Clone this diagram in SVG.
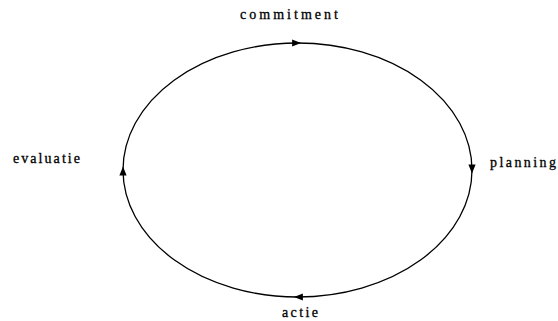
<svg xmlns="http://www.w3.org/2000/svg" width="558" height="321" viewBox="0 0 558 321">
<style>
.lbl{font-family:"Liberation Serif","Times New Roman",serif;font-size:14px;fill:#000;stroke:#000;stroke-width:0.3}
.arc{fill:none;stroke:#000;stroke-width:1.3}
</style>
<defs>
<marker id="ah" viewBox="0 0 10 10" refX="6" refY="5" markerWidth="11" markerHeight="9" markerUnits="userSpaceOnUse" orient="auto">
<path d="M0,1 L10,5 L0,9 Z" fill="#000"/>
</marker>
</defs>
<rect width="558" height="321" fill="#fff"/>
<g id="connectors">
<path class="arc" d="M123,170 A174.5,127 0 0 1 297.5,43" marker-end="url(#ah)"/>
<path class="arc" d="M297.5,43 A174.5,127 0 0 1 472,170" marker-end="url(#ah)"/>
<path class="arc" d="M472,170 A174.5,127 0 0 1 297.5,297" marker-end="url(#ah)"/>
<path class="arc" d="M297.5,297 A174.5,127 0 0 1 123,170" marker-end="url(#ah)"/>
</g>
<g id="commitment"><text class="lbl" x="240" y="19" textLength="98" lengthAdjust="spacing">commitment</text></g>
<g id="planning"><text class="lbl" x="490" y="167" textLength="66" lengthAdjust="spacing">planning</text></g>
<g id="actie"><text class="lbl" x="282" y="317" textLength="36" lengthAdjust="spacing">actie</text></g>
<g id="evaluatie"><text class="lbl" x="13" y="163" textLength="67" lengthAdjust="spacing">evaluatie</text></g>
</svg>
